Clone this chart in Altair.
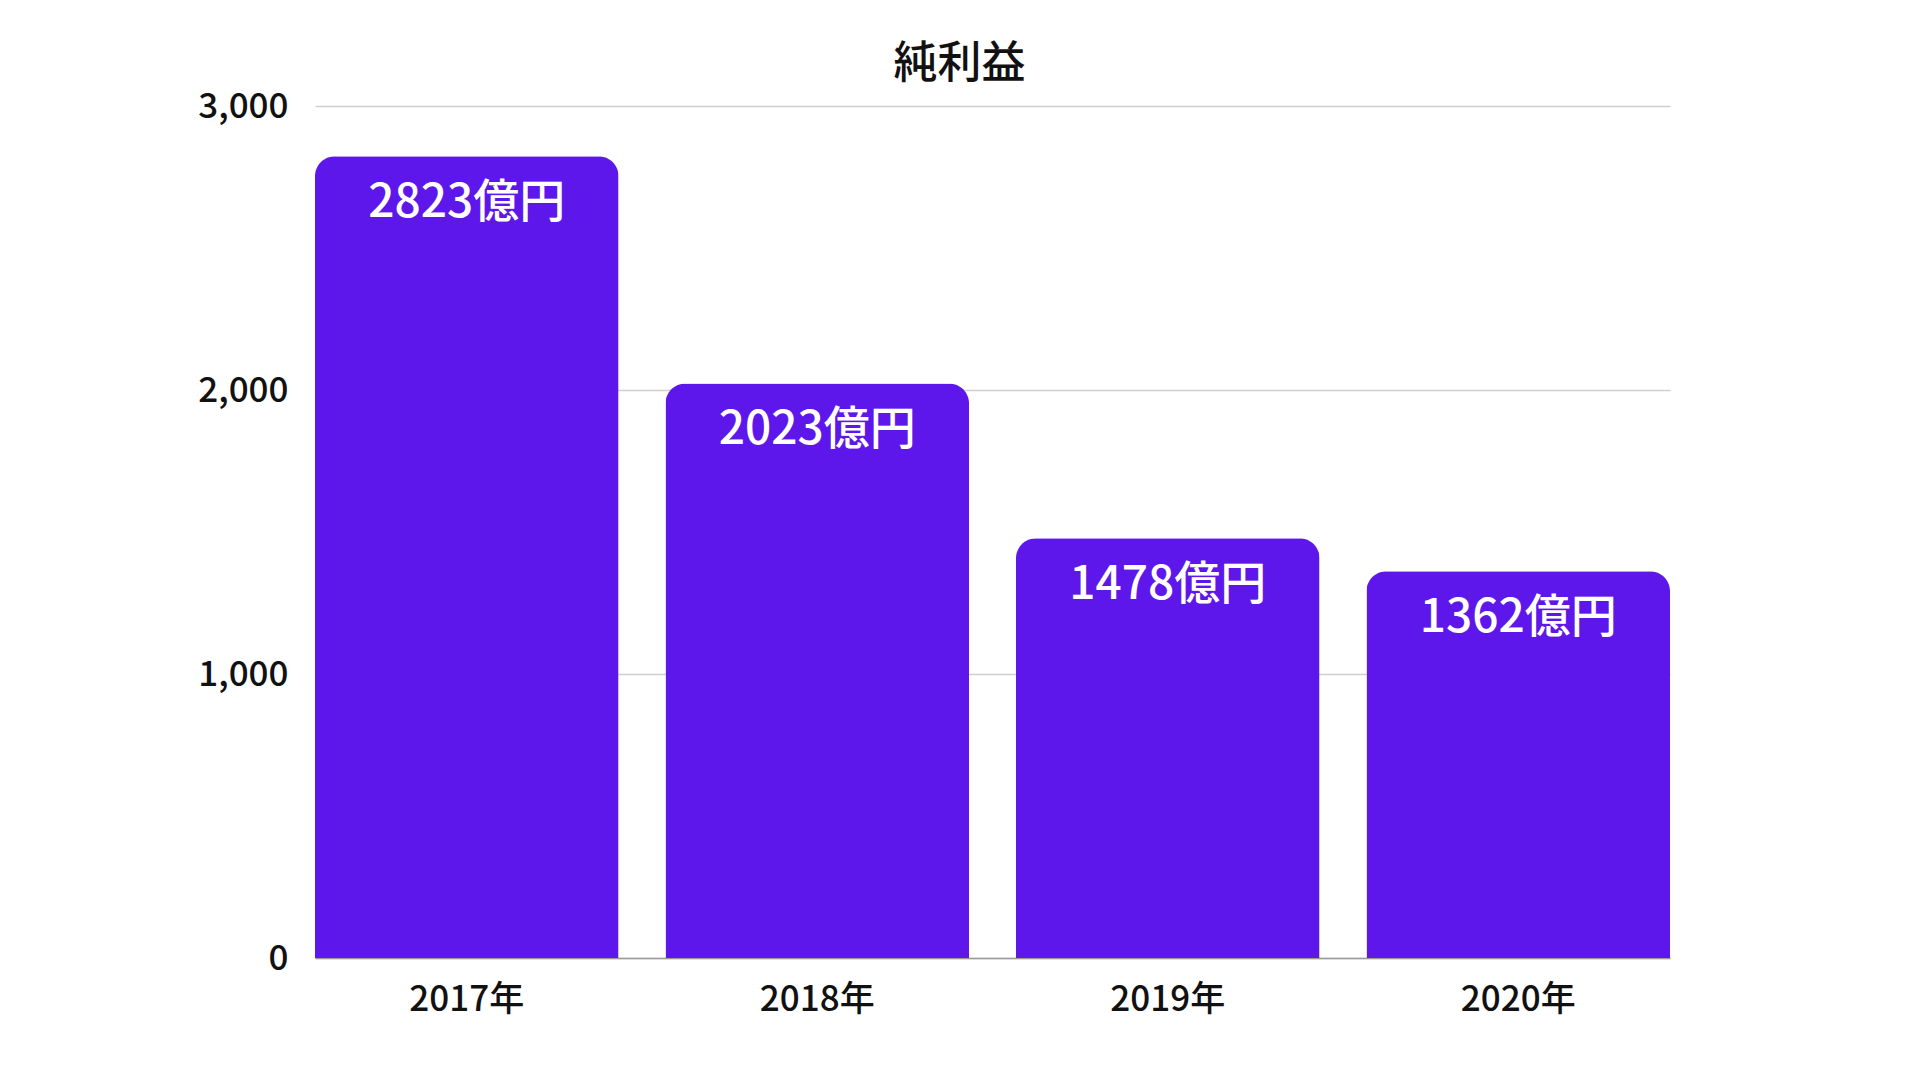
import altair as alt
import pandas as pd

years = ["2017年", "2018年", "2019年", "2020年"]
profit = [2823, 2023, 1478, 1362]
labels = ["2823億円", "2023億円", "1478億円", "1362億円"]
y_ticks = [0, 1000, 2000, 3000]

FONT = "Noto Sans CJK JP"
BAR_COLOR = "#5E17EB"

df = pd.DataFrame({"year": years, "profit": profit, "label": labels})

base = alt.Chart(df).encode(
    x=alt.X(
        "year:N",
        sort=years,
        title=None,
        scale=alt.Scale(paddingInner=0.134, paddingOuter=0),
        axis=alt.Axis(
            labelAngle=0, labelFontSize=35, labelColor="#111111", labelFont=FONT,
            labelFontWeight=500, labelPadding=24, ticks=False,
            domainColor="#9a9a9a", domainWidth=1.5,
        ),
    ),
    y=alt.Y(
        "profit:Q",
        title=None,
        scale=alt.Scale(domain=[0, 3000], nice=False),
        axis=alt.Axis(
            values=y_ticks, format=",.0f", labelFontSize=35, labelFontWeight=500,
            labelColor="#111111", labelFont=FONT, labelPadding=27,
            ticks=False, domain=False, gridColor="#cfcfcf", gridWidth=1.5,
        ),
    ),
)

bars = base.mark_bar(color=BAR_COLOR, cornerRadiusTopLeft=20, cornerRadiusTopRight=20)

text = base.mark_text(
    color="white", font=FONT, fontSize=46, fontWeight=500,
    baseline="alphabetic", align="center", dy=61,
).encode(text="label:N")

chart = (bars + text).properties(
    width=1355,
    height=852,
    background="white",
    title=alt.TitleParams(
        "純利益", fontSize=44, font=FONT, fontWeight=500, color="#111111",
        anchor="middle", dx=-33, offset=2,
    ),
    autosize=alt.AutoSizeParams(type="none"),
    padding={"left": 307, "top": 98, "right": 242, "bottom": 114},
).configure_view(strokeWidth=0)

chart.save("out.html", embed_options={"renderer": "svg", "actions": False})
